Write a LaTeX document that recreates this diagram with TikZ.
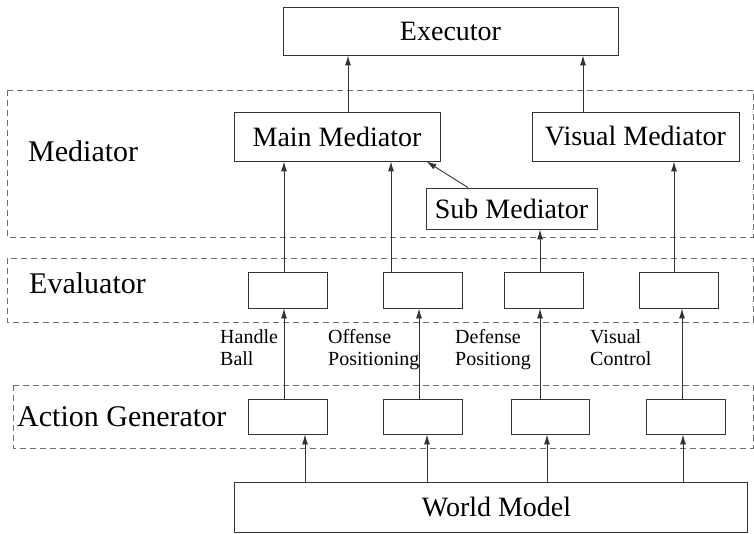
\documentclass[tikz,border=0pt]{standalone}
\usepackage{fontspec}
\setmainfont{Liberation Serif}
\usepackage{xcolor}
\usepackage{tikz}
\usetikzlibrary{arrows.meta, positioning}
\definecolor{edge}{HTML}{333333}
\definecolor{dashgray}{HTML}{6E6E6E}

\tikzset{
  box/.style={draw=edge, line width=0.9pt, inner sep=0pt, font=\fontsize{28}{30}\selectfont},
  region/.style={draw=dashgray, line width=0.9pt, dash pattern=on 6pt off 4pt},
  lbl/.style={anchor=base west, inner sep=0pt, font=\fontsize{30}{32}\selectfont},
  note/.style={anchor=north west, inner sep=0pt, align=left, font=\fontsize{20}{22}\selectfont},
  flow/.style={draw=edge, line width=0.9pt, -{Latex[length=10pt,width=6pt]}}
}

\begin{document}
\begin{tikzpicture}[x=1pt, y=-1pt]
        \useasboundingbox (0,0) rectangle (754,534);
        % layers
        \draw[region] (7,90) rectangle (753,237);
        \draw[region] (7,258) rectangle (753,322);
        \draw[region] (13,385) rectangle (753,448);
        \node[lbl] (medlbl) at (28,162) {Mediator};
        \node[lbl] (evlbl) at (29,294) {Evaluator};
        \node[lbl] (aglbl) at (17,426) {Action Generator};
        % boxes
        \node[box, minimum width=335pt, minimum height=48pt] (exec) at (450.5,31) {Executor};
        \node[box, minimum width=206pt, minimum height=49pt] (main) at (337,136.5) {Main Mediator};
        \node[box, minimum width=207pt, minimum height=49pt] (vis) at (635.5,136.5) {Visual Mediator};
        \node[box, minimum width=171pt, minimum height=41pt] (sub) at (511.5,208.5) {Sub Mediator};
        \node[box, minimum width=79pt, minimum height=36pt] (ev1) at (287.5,290) {};
        \node[box, minimum width=79pt, minimum height=36pt] (ev2) at (422.5,290) {};
        \node[box, minimum width=79pt, minimum height=36pt] (ev3) at (543.5,290) {};
        \node[box, minimum width=79pt, minimum height=36pt] (ev4) at (678.5,290) {};
        \node[box, minimum width=79pt, minimum height=35pt] (ag1) at (287.5,416.5) {};
        \node[box, minimum width=79pt, minimum height=35pt] (ag2) at (422.5,416.5) {};
        \node[box, minimum width=78pt, minimum height=35pt] (ag3) at (550,416.5) {};
        \node[box, minimum width=79pt, minimum height=35pt] (ag4) at (685.5,416.5) {};
        \node[box, minimum width=513pt, minimum height=50pt] (wm) at (490.5,507) {\hspace*{12pt}World Model};
        % behaviour names
        \node[note] (hb) at (220,329) {Handle\\Ball};
        \node[note] (op) at (328,329) {Offense\\Positioning};
        \node[note] (dp) at (455,329) {Defense\\Positiong};
        \node[note] (vc) at (590,329) {Visual\\Control};
        % connectors
        \draw[flow] ([xshift=11pt]main.north) -- ([xshift=11pt]main.north |- exec.south);
        \draw[flow] ([xshift=-52.5pt]vis.north) -- ([xshift=-52.5pt]vis.north |- exec.south);
        \draw[flow] ([xshift=-43.5pt]sub.north) -- ([xshift=-14pt]main.south east);
        \draw[flow] ([xshift=-3.5pt]ev1.north) -- ([xshift=-3.5pt]ev1.north |- main.south);
        \draw[flow] ([xshift=-31.5pt]ev2.north) -- ([xshift=-31.5pt]ev2.north |- main.south);
        \draw[flow] ([xshift=-3.5pt]ev3.north) -- ([xshift=-3.5pt]ev3.north |- sub.south);
        \draw[flow] ([xshift=-4.5pt]ev4.north) -- ([xshift=-4.5pt]ev4.north |- vis.south);
        \draw[flow] ([xshift=-3.5pt]ag1.north) -- ([xshift=-3.5pt]ag1.north |- ev1.south);
        \draw[flow] ([xshift=-3.5pt]ag2.north) -- ([xshift=-3.5pt]ag2.north |- ev2.south);
        \draw[flow] ([xshift=-10pt]ag3.north) -- ([xshift=-10pt]ag3.north |- ev3.south);
        \draw[flow] ([xshift=-3.5pt]ag4.north) -- ([xshift=-3.5pt]ag4.north |- ev4.south);
        \draw[flow] ([xshift=17.5pt]ag1.south |- wm.north) -- ([xshift=17.5pt]ag1.south);
        \draw[flow] ([xshift=4.5pt]ag2.south |- wm.north) -- ([xshift=4.5pt]ag2.south);
        \draw[flow] ([xshift=-3pt]ag3.south |- wm.north) -- ([xshift=-3pt]ag3.south);
        \draw[flow] ([xshift=-2.5pt]ag4.south |- wm.north) -- ([xshift=-2.5pt]ag4.south);
    \end{tikzpicture}
\end{document}
